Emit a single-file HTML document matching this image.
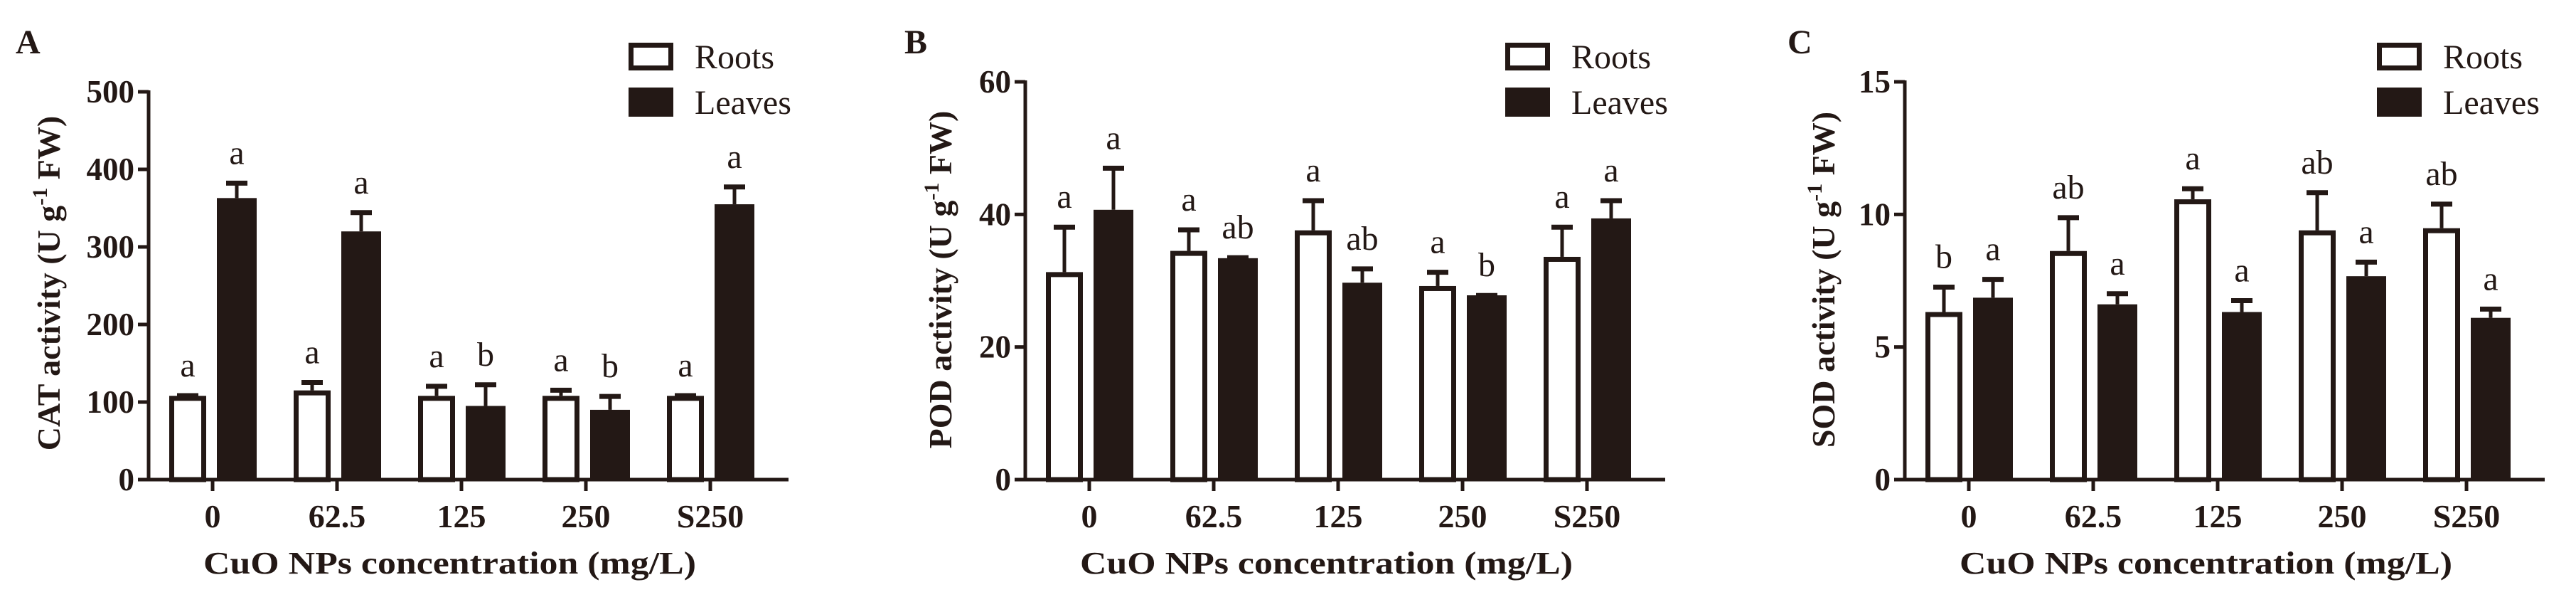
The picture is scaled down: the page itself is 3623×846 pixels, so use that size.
<!DOCTYPE html>
<html><head><meta charset="utf-8"><style>
html,body{margin:0;padding:0;background:#fff}
svg{display:block}
text{font-family:"Liberation Serif",serif;fill:#231815}
</style></head><body>
<svg id="fig" width="3623" height="846" viewBox="0 0 3623 846" xmlns="http://www.w3.org/2000/svg"></svg>
<script>
const categories = ["0","62.5","125","250","S250"];
// Panel A: CAT
const catRoots = [108,115,108,108,108];
const catRootsErr = [3,13,15,10,3];
const catLeaves = [363,320,95,90,355];
const catLeavesErr = [22,27,30,20,25];
const catRootsLbl = ["a","a","a","a","a"];
const catLeavesLbl = ["a","a","b","b","a"];
const catTicks = [0,100,200,300,400,500];
// Panel B: POD
const podRoots = [31.3,34.5,37.6,29.2,33.6];
const podRootsErr = [7.1,3.5,4.8,2.4,4.8];
const podLeaves = [40.7,33.4,29.7,27.8,39.4];
const podLeavesErr = [6.6,0.4,2.4,0.3,3.0];
const podRootsLbl = ["a","a","a","a","a"];
const podLeavesLbl = ["a","ab","ab","b","a"];
const podTicks = [0,20,40,60];
// Panel C: SOD
const sodRoots = [6.32,8.62,10.57,9.4,9.48];
const sodRootsErr = [1.02,1.34,0.48,1.5,0.99];
const sodLeaves = [6.86,6.61,6.32,7.67,6.1];
const sodLeavesErr = [0.77,0.48,0.51,0.61,0.41];
const sodRootsLbl = ["b","ab","a","ab","ab"];
const sodLeavesLbl = ["a","a","a","a","a"];
const sodTicks = [0,5,10,15];

const NS="http://www.w3.org/2000/svg";
const svg=document.getElementById('fig');
const C="#231815";
function el(tag,attrs,parent){const e=document.createElementNS(NS,tag);for(const k in attrs)e.setAttribute(k,attrs[k]);(parent||svg).appendChild(e);return e;}

function panel(cfg){
  const g=el('g',{});
  
  
  const y0=674, yTop=cfg.yTop, ymax=cfg.ticks[cfg.ticks.length-1];
  const Y=v=>y0-(v/ymax)*(y0-yTop);
  const X=i=>cfg.ax+90+i*175;
  const pl=el('text',{x:cfg.letterX,y:75,'font-size':48,'font-weight':'bold'},g);pl.textContent=cfg.letter;
  
  
  const ya=el('line',{x1:cfg.ax,y1:yTop-2,x2:cfg.ax,y2:y0+2.5,stroke:C,'stroke-width':5},g);
  
  
  cfg.ticks.forEach(t=>{
    const tl=el('line',{x1:cfg.ax-15,y1:Y(t),x2:cfg.ax,y2:Y(t),stroke:C,'stroke-width':5},g);
    
    
    const tx=el('text',{x:cfg.ax-20,y:Y(t)+15,'font-size':45,'font-weight':'bold','text-anchor':'end'},g);tx.textContent=t;
    
    
  });
  const xa=el('line',{x1:cfg.ax-2.5,y1:y0,x2:cfg.ax+900,y2:y0,stroke:C,'stroke-width':5},g);
  
  
  categories.forEach((c,i)=>{
    const tk=el('line',{x1:X(i),y1:y0,x2:X(i),y2:y0+16,stroke:C,'stroke-width':5},g);
    
    
    const tx=el('text',{x:X(i),y:741,'font-size':46,'font-weight':'bold','text-anchor':'middle'},g);tx.textContent=c;
    
    
    const rv=cfg.roots[i], re=cfg.rootsErr[i];
    const rTop=Y(rv);
    const eb=el('line',{x1:X(i)-35,y1:Y(rv+re)+3,x2:X(i)-35,y2:rTop,stroke:C,'stroke-width':5},g);
    
    
    const ec=el('line',{x1:X(i)-50,y1:Y(rv+re)+3,x2:X(i)-20,y2:Y(rv+re)+3,stroke:C,'stroke-width':7},g);
    
    
    const rb=el('rect',{x:X(i)-61+3.5,y:rTop+3.5,width:45,height:Math.max(0,y0-rTop-3.5),fill:'#fff',stroke:C,'stroke-width':7},g);
    
    
    const rl=el('text',{x:X(i)-35,y:Y(rv+re)-24,'font-size':48,'text-anchor':'middle'},g);rl.textContent=cfg.rootsLbl[i];
    
    
    const lv=cfg.leaves[i], le=cfg.leavesErr[i];
    const lTop=Y(lv);
    const eb2=el('line',{x1:X(i)+34,y1:Y(lv+le)+3,x2:X(i)+34,y2:lTop,stroke:C,'stroke-width':5},g);
    
    
    const ec2=el('line',{x1:X(i)+19,y1:Y(lv+le)+3,x2:X(i)+49,y2:Y(lv+le)+3,stroke:C,'stroke-width':7},g);
    
    
    const lb=el('rect',{x:X(i)+6,y:lTop,width:56,height:y0-lTop,fill:C},g);
    
    
    const ll=el('text',{x:X(i)+34,y:Y(lv+le)-24,'font-size':48,'text-anchor':'middle'},g);ll.textContent=cfg.leavesLbl[i];
    
    
  });
  const xt=el('text',{x:cfg.ax+77,y:806,'font-size':44,'font-weight':'bold',textLength:693,lengthAdjust:'spacingAndGlyphs'},g);
  xt.textContent='CuO NPs concentration (mg/L)';
  
  
  const yt=el('text',{x:0,y:0,'font-size':46,'font-weight':'bold','text-anchor':'middle',transform:`translate(${cfg.ytX},${cfg.ytY}) rotate(-90)`},g);
  yt.innerHTML=cfg.yTitle+' (U g<tspan dy="-18" font-size="30">-1</tspan><tspan dy="18"> FW)</tspan>';
  
  
  const lg=el('g',{},g);
  
  
  const b1=el('rect',{x:cfg.legX+3.5,y:63.5,width:56,height:32,fill:'#fff',stroke:C,'stroke-width':7},lg);
  
  
  const t1=el('text',{x:cfg.legX+93,y:96,'font-size':48},lg);t1.textContent='Roots';
  
  
  const b2=el('rect',{x:cfg.legX,y:123,width:63,height:41,fill:C},lg);
  
  
  const t2=el('text',{x:cfg.legX+93,y:160,'font-size':48},lg);t2.textContent='Leaves';
  
  
}

panel({name:'panel-a-cat',letter:'A',letterX:22,ax:209,yTop:129,ticks:catTicks,roots:catRoots,rootsErr:catRootsErr,leaves:catLeaves,leavesErr:catLeavesErr,rootsLbl:catRootsLbl,leavesLbl:catLeavesLbl,yTitle:'CAT activity',ytX:84,ytY:398,legX:884});
panel({name:'panel-b-pod',letter:'B',letterX:1272,ax:1442,yTop:115,ticks:podTicks,roots:podRoots,rootsErr:podRootsErr,leaves:podLeaves,leavesErr:podLeavesErr,rootsLbl:podRootsLbl,leavesLbl:podLeavesLbl,yTitle:'POD activity',ytX:1338,ytY:393,legX:2117});
panel({name:'panel-c-sod',letter:'C',letterX:2514,ax:2679,yTop:115,ticks:sodTicks,roots:sodRoots,rootsErr:sodRootsErr,leaves:sodLeaves,leavesErr:sodLeavesErr,rootsLbl:sodRootsLbl,leavesLbl:sodLeavesLbl,yTitle:'SOD activity',ytX:2580,ytY:393,legX:3343});
</script>
</body></html>
